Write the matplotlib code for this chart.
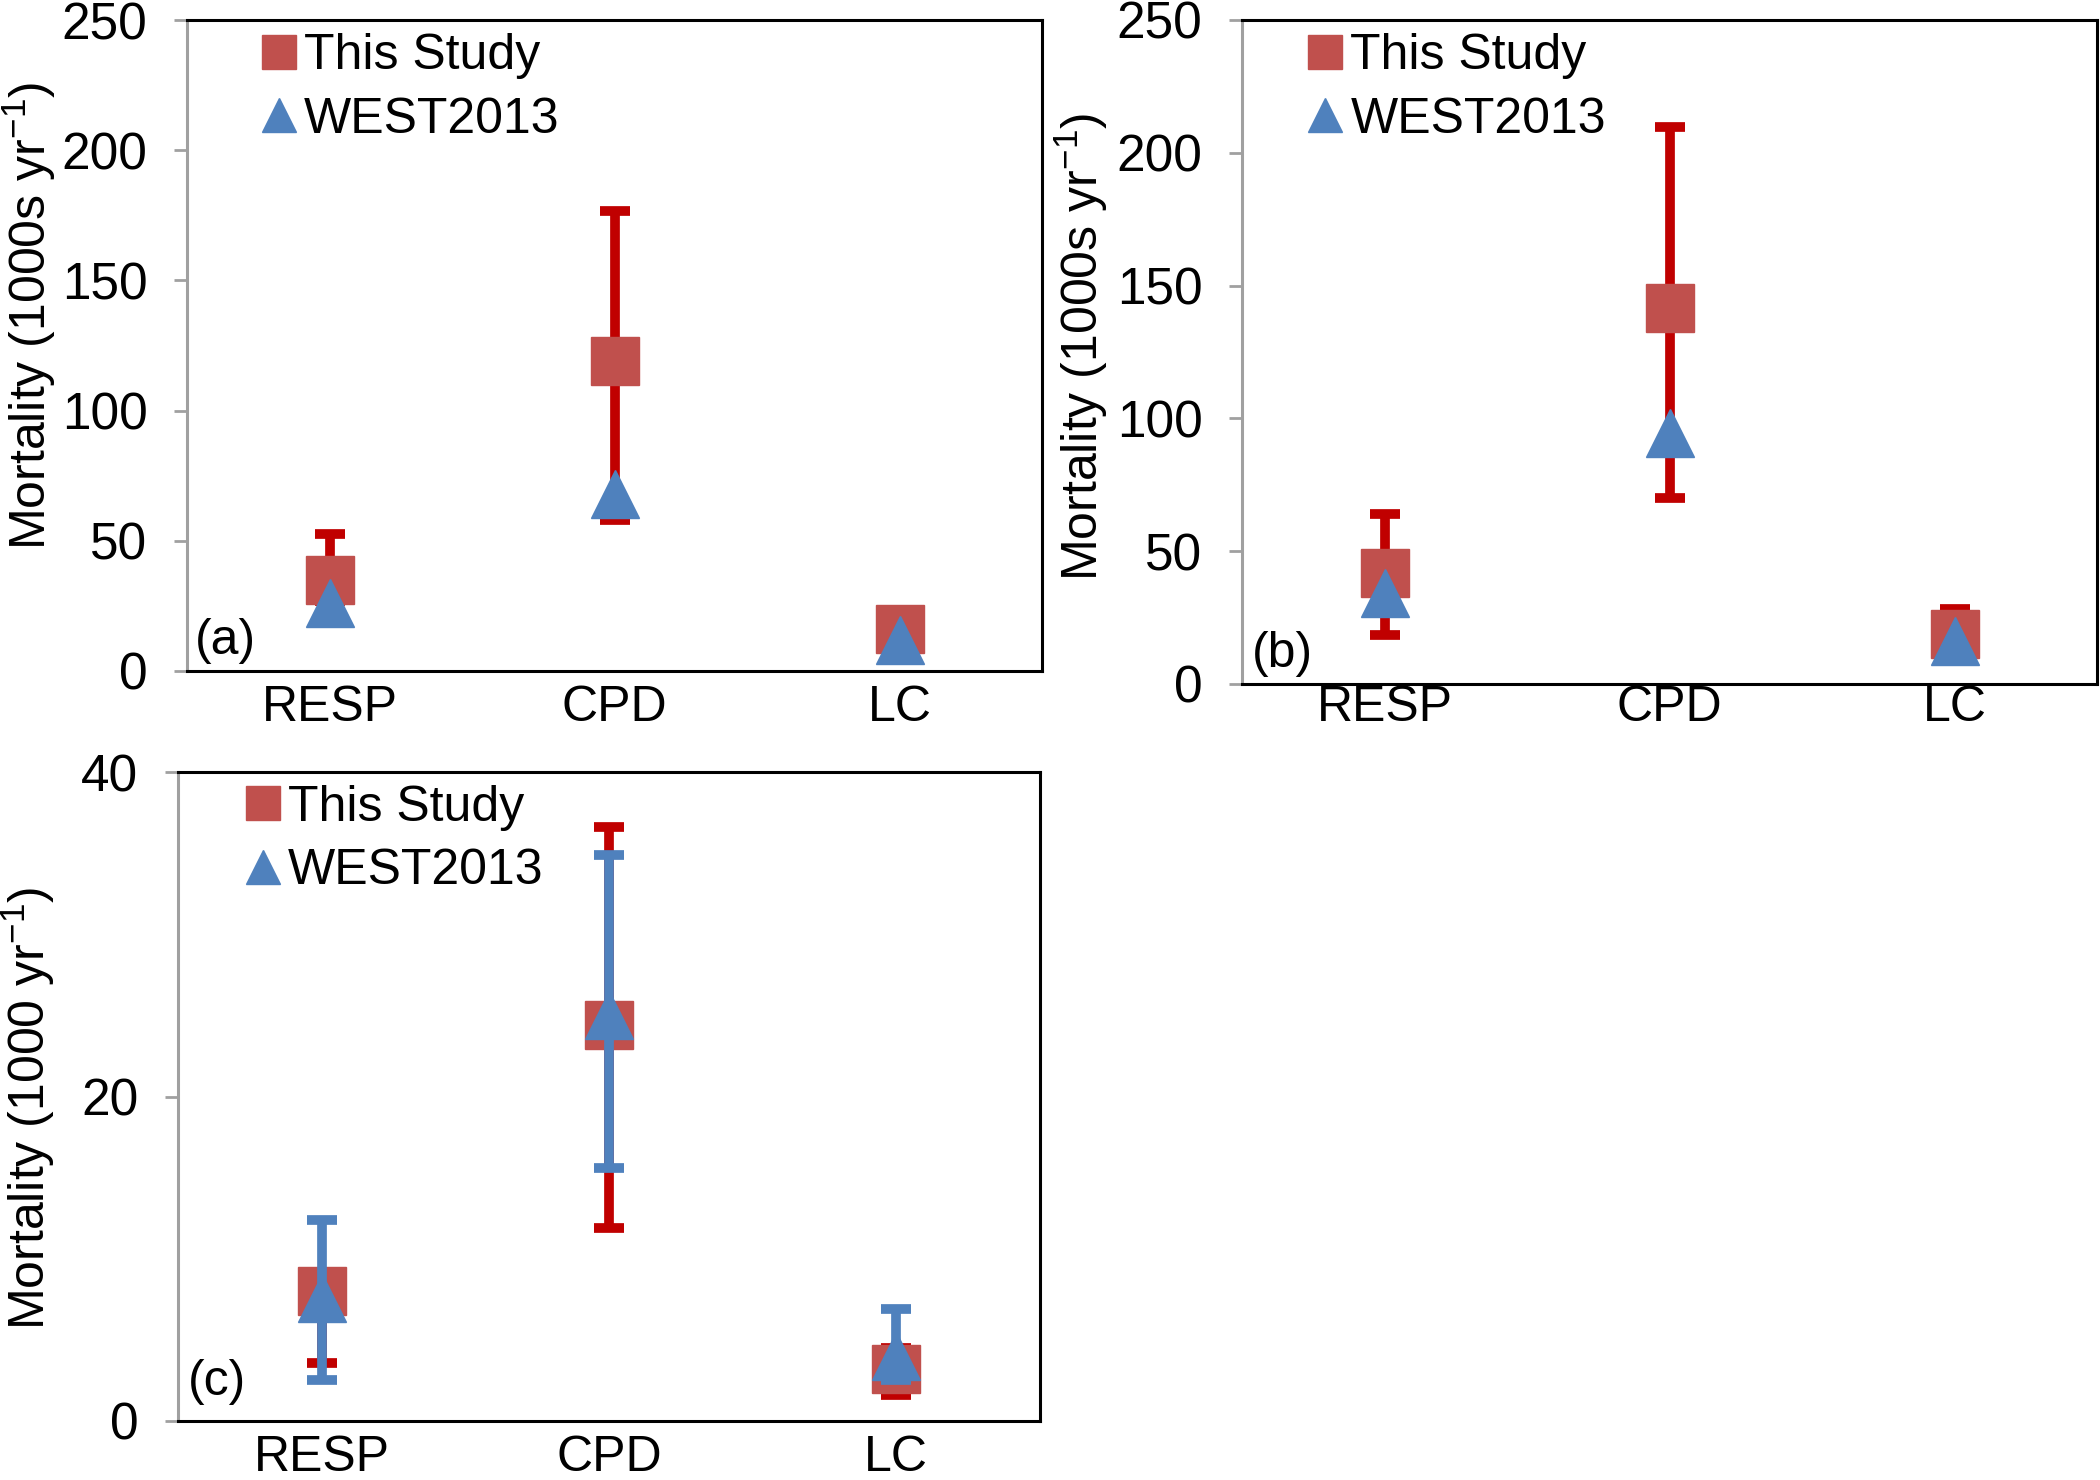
import matplotlib
matplotlib.use("Agg")
import matplotlib.pyplot as plt
from matplotlib.lines import Line2D
import numpy as np

plt.rcParams['font.family'] = ['Liberation Sans', 'DejaVu Sans']
plt.rcParams['mathtext.fontset'] = 'custom'
plt.rcParams['mathtext.rm'] = 'Liberation Sans'
plt.rcParams['mathtext.it'] = 'Liberation Sans:italic'

# categories
categories = ['RESP', 'CPD', 'LC']

# panel (a)
a_study = [35, 119, 16]
a_study_lo = [27, 58, 16]
a_study_hi = [52.5, 176.5, 16]
a_west = [26, 68, 12]

# panel (b)
b_study = [41.7, 141.7, 19]
b_study_lo = [18.6, 70.1, 12]
b_study_hi = [63.9, 209.9, 28.4]
b_west = [34.3, 94.6, 16.2]

# panel (c)
c_study = [8.0, 24.4, 3.2]
c_study_lo = [3.6, 11.9, 1.6]
c_study_hi = [9.0, 36.6, 4.5]
c_west = [7.6, 25.0, 4.0]
c_west_lo = [2.5, 15.6, 2.5]
c_west_hi = [12.4, 34.9, 6.9]

SQ = '#C0504D'
TRI = '#4F81BD'
RED_ERR = '#C00000'
BLUE_ERR = '#4F81BD'
FS = 36

fig = plt.figure(figsize=(21, 14.8), dpi=100)


def panel(rect, study, slo, shi, west, wlo=None, whi=None, ylim=250, yticks=None,
          ylabel='', lab='', leg_x=0.09, ylab_xy=(-0.175, 0.545), lab_xy=(0.01, 0.02),
          xpad=10):
    ax = fig.add_axes(rect)
    x = np.arange(len(categories)) + 0.5
    study = np.array(study)
    yerr = [study - np.array(slo), np.array(shi) - study]
    ax.errorbar(x, study, yerr=yerr, fmt='none', ecolor=RED_ERR, elinewidth=7,
                capsize=11, capthick=7, zorder=2)
    ax.plot(x, study, 's', color=SQ, markersize=34, markeredgecolor=SQ, zorder=3)
    if wlo is not None:
        west_a = np.array(west)
        werr = [west_a - np.array(wlo), np.array(whi) - west_a]
        ax.errorbar(x, west_a, yerr=werr, fmt='none', ecolor=BLUE_ERR, elinewidth=7,
                    capsize=11, capthick=7, zorder=4)
    ax.plot(x, west, '^', color=TRI, markersize=34, markeredgecolor=TRI, zorder=5)

    ax.set_xlim(0, 3)
    ax.set_ylim(0, ylim)
    ax.set_yticks(yticks)
    ax.set_xticks(x)
    ax.set_xticklabels(categories, fontsize=FS)
    ax.tick_params(axis='x', length=0, pad=xpad)
    ax.tick_params(axis='y', length=9.5, width=2, color='#A0A0A0', labelsize=37, pad=19)
    for s in ['top', 'right', 'bottom']:
        ax.spines[s].set_color('black')
        ax.spines[s].set_linewidth(2.2)
    ax.spines['left'].set_color('#A0A0A0')
    ax.spines['left'].set_linewidth(2.2)

    ax.text(ylab_xy[0], ylab_xy[1], ylabel, transform=ax.transAxes, fontsize=FS,
            rotation=90, rotation_mode='anchor', ha='center', va='baseline')
    ax.text(lab_xy[0], lab_xy[1], lab, transform=ax.transAxes, fontsize=FS,
            ha='left', va='bottom')

    handles = [Line2D([], [], marker='s', ls='none', color=SQ, markersize=24),
               Line2D([], [], marker='^', ls='none', color=TRI, markersize=24)]
    ax.legend(handles, ['This Study', 'WEST2013'], loc='upper left',
              bbox_to_anchor=(leg_x, 0.98), frameon=False, fontsize=FS,
              handlelength=0.6, handletextpad=0.2, labelspacing=0.35,
              borderpad=0, borderaxespad=0)
    return ax


panel([187 / 2100, 1 - 671 / 1480, 855 / 2100, 651 / 1480],
      a_study, a_study_lo, a_study_hi, a_west, ylim=250, yticks=[0, 50, 100, 150, 200, 250],
      ylabel='Mortality (1000s yr$^{-1}$)', lab='(a)', leg_x=0.09,
      ylab_xy=(-0.165, 0.545), lab_xy=(0.009, 0.01), xpad=10)

panel([1242 / 2100, 1 - 684 / 1480, 855 / 2100, 664 / 1480],
      b_study, b_study_lo, b_study_hi, b_west, ylim=250, yticks=[0, 50, 100, 150, 200, 250],
      ylabel='Mortality (1000s yr$^{-1}$)', lab='(b)', leg_x=0.08,
      ylab_xy=(-0.168, 0.508), lab_xy=(0.012, 0.01), xpad=1)

panel([178 / 2100, 1 - 1421 / 1480, 862 / 2100, 649 / 1480],
      c_study, c_study_lo, c_study_hi, c_west, c_west_lo, c_west_hi, ylim=40,
      yticks=[0, 20, 40], ylabel='Mortality (1000 yr$^{-1}$)', lab='(c)', leg_x=0.081,
      ylab_xy=(-0.154, 0.482), lab_xy=(0.012, 0.025), xpad=10)

fig.savefig('out.png', dpi=100)
